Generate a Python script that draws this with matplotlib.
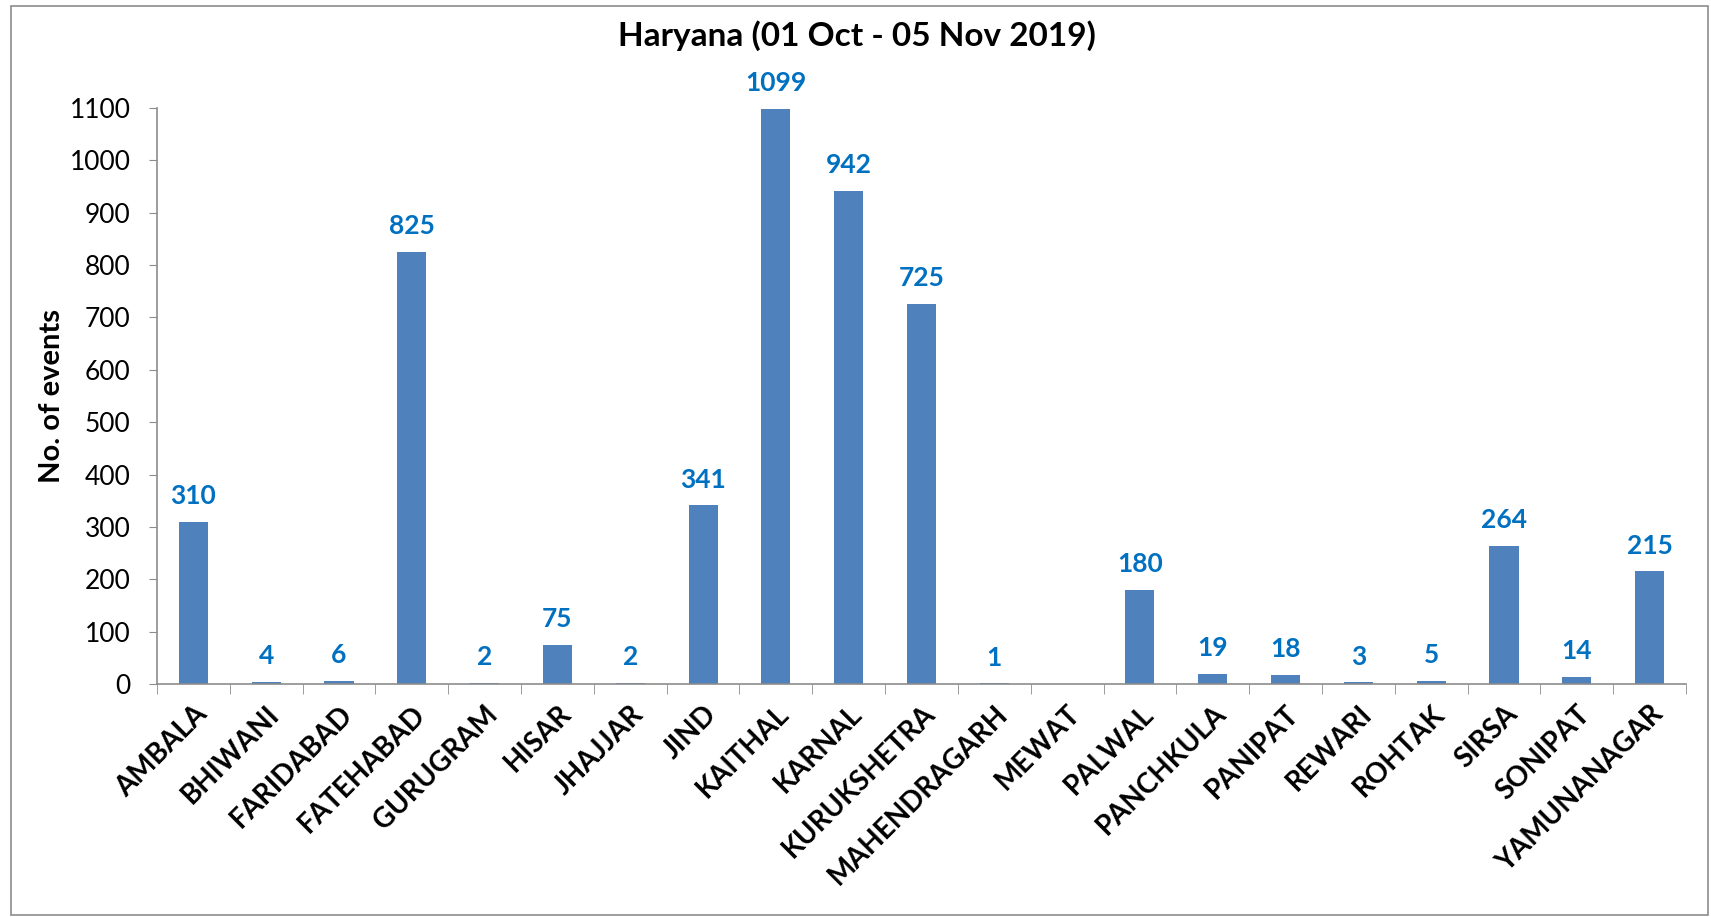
import numpy as np
import matplotlib.pyplot as plt
from matplotlib.patches import Rectangle

districts = ["AMBALA", "BHIWANI", "FARIDABAD", "FATEHABAD", "GURUGRAM", "HISAR",
             "JHAJJAR", "JIND", "KAITHAL", "KARNAL", "KURUKSHETRA", "MAHENDRAGARH",
             "MEWAT", "PALWAL", "PANCHKULA", "PANIPAT", "REWARI", "ROHTAK", "SIRSA",
             "SONIPAT", "YAMUNANAGAR"]
events = [310, 4, 6, 825, 2, 75, 2, 341, 1099, 942, 725, 1, np.nan, 180, 19, 18,
          3, 5, 264, 14, 215]

plt.rcParams['font.family'] = ['Lato', 'DejaVu Sans']

W, H = 1711, 917
fig = plt.figure(figsize=(W / 100, H / 100), dpi=100)
fig.patches.append(Rectangle((11 / W, 2 / H), 1697 / W, 909 / H, transform=fig.transFigure,
                             fill=False, edgecolor="#8c8c8c", linewidth=1.2))

ax = fig.add_axes([157 / W, 1 - 684 / H, (1686 - 157) / W, (684 - 108) / H])
x = np.arange(len(districts))
vals = np.array(events, dtype=float)
ax.bar(x, np.nan_to_num(vals), width=0.4, color="#4F81BD")

for xi, v in zip(x, vals):
    if np.isnan(v):
        continue
    ax.annotate(f"{int(v)}", (xi, v), xytext=(0, 10), textcoords="offset points",
                ha="center", va="bottom", color="#0070C0", fontsize=19, fontweight="bold")

ax.set_xlim(-0.5, len(districts) - 0.5)
ax.set_ylim(0, 1100)
ax.set_yticks(np.arange(0, 1101, 100))
ax.tick_params(axis="y", labelsize=19, length=6, color="#8c8c8c", direction="out", pad=13)
ax.set_xticks(x)
ax.set_xticklabels(districts, rotation=45, ha="right", rotation_mode="anchor",
                   fontsize=20, fontweight="bold")
ax.tick_params(axis="x", length=0, pad=12)
ax.set_xticks(np.arange(-0.5, len(districts)), minor=True)
ax.tick_params(axis="x", which="minor", length=7, color="#8c8c8c")

for s in ["top", "right"]:
    ax.spines[s].set_visible(False)
for s in ["left", "bottom"]:
    ax.spines[s].set_color("#8c8c8c")
    ax.spines[s].set_linewidth(1.2)

ax.set_ylabel("No. of events", fontsize=21, fontweight="bold")
ax.yaxis.set_label_coords(-0.060, 0.5)
fig.text(857 / W, 1 - 36 / H, "Haryana (01 Oct - 05 Nov 2019)", ha="center", va="center",
         fontsize=24, fontweight="bold")

fig.savefig("out.png", dpi=100)
